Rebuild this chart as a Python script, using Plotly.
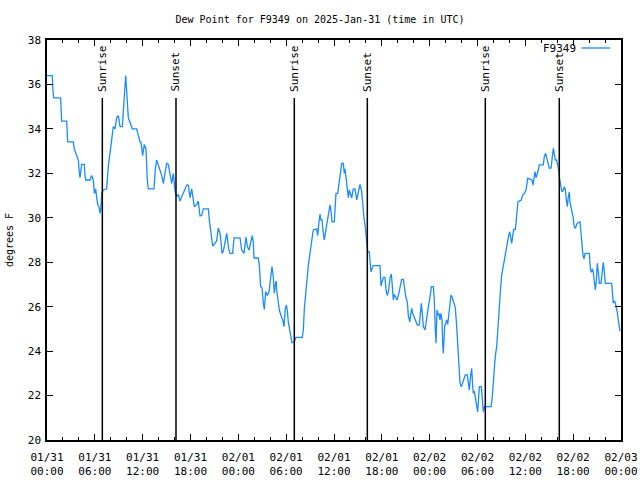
import pandas as pd
import plotly.graph_objects as go

START = pd.Timestamp("2025-01-31 00:00")

# hours since 2025-01-31 00:00 UTC
hours = [0.0, 0.67, 0.75, 0.85, 1.71, 1.84, 2.47, 2.59, 3.3, 3.43, 3.72, 3.93, 4.06, 4.14, 4.35, 4.68, 4.77, 4.85, 5.39, 5.6, 5.81, 5.94, 6.1, 6.23, 6.35, 6.52, 6.65, 6.77, 6.86, 7.06, 7.48, 7.69, 7.9, 8.11, 8.32, 8.53, 8.74, 8.95, 9.16, 9.45, 9.57, 9.7, 9.87, 10.03, 10.2, 10.41, 10.7, 11.25, 11.46, 11.67,
         11.79, 12.0, 12.2, 12.42, 12.58, 12.71, 13.42, 13.59, 13.76, 13.96, 14.17, 14.39, 14.59, 14.8, 15.01, 15.22, 15.43, 15.64, 15.85, 16.06, 16.27, 16.47, 16.68, 17.1, 17.52, 17.73, 17.94, 18.15, 18.27, 18.48, 18.78, 18.98, 19.19, 19.4, 19.61, 20.24, 20.36, 20.53, 20.66, 20.78, 21.07, 21.28, 21.49, 21.7, 21.83, 21.95, 22.12, 22.33, 22.54, 22.67, 22.79, 22.96, 23.29, 23.46, 24.21,
         24.42, 24.71, 24.96, 25.13, 25.34, 25.59, 25.75, 25.88, 25.97, 26.5, 26.63, 26.8, 26.97, 27.14, 27.26, 27.43, 27.64, 27.85, 27.97, 28.1, 28.22, 28.39, 28.51, 28.64, 28.76, 28.81, 28.93, 29.14, 29.35, 29.56, 29.73, 29.89, 30.02, 30.14, 30.27, 30.48, 30.61, 30.73, 30.98, 31.11, 31.23, 32.03, 32.15, 32.28, 32.4, 32.53, 32.65, 32.78, 32.9, 33.03, 33.15, 33.28, 33.4, 33.82, 33.95, 34.12, 34.24, 34.37, 34.5, 34.62, 34.79, 34.91, 35.04, 35.16, 35.33, 35.5, 35.62, 35.75, 36.04, 36.17, 36.25, 36.46, 36.59, 36.71, 36.84, 36.97, 37.17, 37.29,
         37.38, 37.51, 37.67, 37.8, 37.92, 38.1, 38.22, 38.42, 38.63, 38.85, 39.05, 39.26, 39.47, 39.6, 39.76, 39.93, 40.1,
         40.23, 40.43, 40.52, 40.64, 40.77, 40.93, 41.77, 41.9, 42.02, 42.19, 42.4, 42.52, 42.69, 42.86, 43.03, 43.19, 43.32, 43.44, 43.57, 43.74, 43.9, 44.07, 44.28, 44.49, 44.7, 44.86, 45.03, 45.2, 45.32, 45.5, 45.62, 45.75, 45.87, 46.04, 46.29, 46.45, 46.7, 46.83, 46.95, 47.08, 47.2, 47.42, 47.54, 47.71, 47.88, 48.04, 48.21, 48.46, 48.58, 48.71, 48.8, 48.92, 49.05, 49.17, 49.3, 49.42, 49.55, 49.63, 49.71, 49.8, 49.88,
         50.05, 50.14, 50.26, 50.39, 50.55, 50.68, 50.84, 50.97, 51.09, 51.22, 51.39, 51.52, 51.64, 51.81, 51.97, 52.14, 52.31, 52.47, 52.72, 52.89, 52.97, 53.15, 53.27, 53.4, 53.48, 53.6, 53.73, 53.9, 54.02, 54.15, 54.23, 54.48, 54.61, 54.73, 54.86, 55.7, 55.86, 55.98, 56.16, 56.28, 56.41, 56.53, 56.66, 56.79, 56.91, 57.04, 57.25, 57.41, 57.54, 57.66, 57.79, 57.92, 58.04, 58.17, 58.29, 58.42, 58.54, 58.75, 58.83, 58.96, 59.08, 59.5, 59.67, 59.88, 60.09, 60.21, 60.3, 60.84, 60.96,
         61.09, 61.21, 61.34, 61.5, 61.63, 61.75, 62.25, 62.38, 62.55, 62.68, 62.88, 63.0, 63.22, 63.35, 63.43, 63.51, 63.64, 63.76, 63.93, 64.06, 64.18, 64.26, 64.35, 64.47, 64.6, 64.77, 64.89, 65.02, 65.14, 65.27, 65.39, 65.52, 65.6, 65.73, 65.85, 65.98, 66.11, 66.23, 66.36, 66.48, 66.86, 66.98, 67.11, 67.23, 67.36, 67.49, 68.03, 68.15, 68.28, 68.41, 68.53, 68.66, 68.78, 68.91, 69.03, 69.16, 69.28, 69.49, 69.62, 69.78, 69.91, 70.03, 70.83, 70.91, 71.03, 71.16, 71.28, 71.41, 71.53, 71.66, 71.78, 71.87]

dewpoint = [36.4, 36.4, 35.7, 35.4, 35.4, 34.35, 34.35, 33.42, 33.42, 33.08, 32.8, 32.6, 32.0, 31.8, 32.4, 32.4, 31.9, 31.7, 31.7, 31.9, 31.7, 31.1, 31.3, 31.0, 30.6, 30.5, 30.2, 30.5, 31.1, 31.25, 31.3, 32.3, 32.9, 33.5, 34.1, 34.0, 34.5, 34.6, 34.1, 34.1, 34.7, 35.2, 36.4, 35.5, 34.5, 34.3, 34.0, 34.0, 33.7, 33.4,
            33.4, 32.8, 33.3, 33.1, 31.7, 31.3, 31.3, 32.2, 32.6, 32.4, 32.2, 31.9, 31.55, 32.0, 32.45, 32.4, 32.0, 31.55, 32.0, 31.2, 30.95, 31.05, 30.75, 31.1, 31.47, 31.47, 30.9, 31.3, 30.9, 30.5, 30.6, 30.75, 30.08, 30.1, 30.4, 30.4, 29.9, 29.45, 29.0, 28.73, 28.85, 28.96, 29.54, 29.3, 28.9, 28.4, 28.5, 28.9, 29.3, 28.95, 28.6, 28.4, 28.4, 29.1, 29.1,
            28.55, 28.4, 29.13, 28.7, 28.55, 29.0, 29.2, 28.9, 28.19, 28.19, 27.87, 26.9, 26.85, 26.15, 25.88, 26.67, 26.5, 26.67, 27.0, 27.57, 27.8, 27.35, 26.6, 27.0, 27.15, 26.75, 26.3, 25.85, 25.6, 25.4, 25.1, 25.9, 26.07, 25.85, 25.3, 24.95, 24.65, 24.38, 24.38, 24.5, 24.62, 24.62, 24.95, 25.9, 26.45, 27.12, 27.65, 27.87, 28.18, 28.55, 28.92, 29.22, 29.45, 29.5, 29.2, 29.82, 30.16, 29.9, 29.9, 29.4, 29.0, 29.3, 29.6, 29.95, 30.28, 30.58, 30.3, 29.82, 29.82, 30.43, 31.1, 31.1, 31.4, 31.73, 32.15, 32.45, 32.45, 32.0,
            32.2, 31.8, 31.25, 30.9, 31.25, 30.95, 30.9, 31.3, 31.3, 30.8, 31.1, 31.5, 31.2, 30.5, 30.0, 29.55, 28.77,
            28.47, 28.47, 28.17, 27.57, 27.7, 27.85, 27.85, 26.93, 27.1, 27.32, 27.32, 26.75, 26.5, 26.75, 27.3, 27.47, 26.9, 26.3, 26.55, 26.45, 26.3, 26.5, 26.83, 27.23, 27.23, 26.83, 26.4, 26.22, 25.62, 25.32, 25.62, 25.92, 25.7, 25.55, 25.4, 25.17, 25.17, 25.85, 26.15, 25.7, 25.1, 24.95, 25.32, 25.7, 26.1, 26.42, 26.9, 26.9, 26.3, 24.95, 24.35, 25.85, 25.62, 25.7, 25.4, 25.7, 25.4, 24.35, 23.9, 24.5, 25.1,
            25.3, 25.4, 25.2, 25.7, 26.07, 26.52, 26.4, 26.25, 26.1, 25.95, 25.1, 24.35, 23.15, 22.55, 22.4, 22.55, 22.77, 22.93, 22.93, 22.5, 22.25, 22.93, 23.23, 22.4, 22.1, 22.2, 21.95, 21.5, 21.27, 21.95, 22.4, 22.4, 21.65, 21.27, 21.5, 21.5, 21.95, 22.77, 23.45, 23.9, 24.2, 24.87, 25.7, 26.38, 26.9, 27.43, 27.87, 28.17, 28.47, 28.77, 29.07, 29.22, 29.37, 29.1, 28.85, 29.2, 29.48, 29.48, 29.9, 30.43, 30.72, 30.8, 31.02, 31.1, 31.25, 31.55, 31.78, 31.7, 31.47,
            31.78, 32.08, 31.8, 31.95, 32.15, 32.38, 32.38, 32.75, 32.9, 32.7, 32.4, 32.23, 32.23, 32.6, 32.9, 33.13, 32.85, 32.6, 32.6, 32.38, 32.15, 31.85, 31.55, 31.4, 31.17, 31.25, 31.4, 31.25, 30.8, 30.5, 30.95, 31.17, 30.7, 30.5, 30.35, 30.05, 29.67, 29.52, 29.6, 29.75, 29.82, 29.3, 28.85, 28.32, 28.15, 28.4, 28.4, 27.72, 27.55, 27.7, 27.55, 27.12, 26.75, 27.2, 27.95, 27.55, 27.05, 27.05, 27.5, 28.0, 27.55, 27.05, 27.05, 26.6, 26.15, 26.25, 26.2, 25.95, 25.77, 25.4, 24.95, 24.9]

event_names = ["Sunrise", "Sunset", "Sunrise", "Sunset", "Sunrise", "Sunset"]
event_hours = [6.94, 16.18, 31.02, 40.18, 54.98, 64.26]

y_ticks = [20, 22, 24, 26, 28, 30, 32, 34, 36, 38]
series_name = "F9349"

FONT = "DejaVu Sans Mono"
FS = 10
LINE_COLOR = "#1a8cff"

times = [START + pd.Timedelta(hours=h) for h in hours]
event_times = [START + pd.Timedelta(hours=h) for h in event_hours]

fig = go.Figure()
fig.add_trace(go.Scatter(x=times, y=dewpoint, mode="lines", name=series_name,
                         line=dict(color=LINE_COLOR, width=1.3), showlegend=False))

shapes = []
annotations = []
for name, t in zip(event_names, event_times):
    shapes.append(dict(type="line", xref="x", yref="y domain", x0=t, x1=t, y0=0, y1=0.855,
                       line=dict(color="black", width=1.5)))
    annotations.append(dict(x=t, y=0.866, xref="x", yref="y domain", text=name, textangle=-90,
                            showarrow=False, xanchor="center", yanchor="bottom",
                            font=dict(family=FONT, size=FS + 1, color="black")))

# legend (gnuplot style: label then sample)
annotations.append(dict(x=0.925, y=0.98, xref="paper", yref="paper", text=series_name,
                        showarrow=False, xanchor="right", yanchor="middle",
                        font=dict(family=FONT, size=FS + 1, color="black")))
shapes.append(dict(type="line", xref="paper", yref="paper", x0=0.931, x1=0.981, y0=0.98, y1=0.98,
                   line=dict(color=LINE_COLOR, width=1.3)))

fig.update_layout(
    width=640, height=480,
    margin=dict(l=47, r=19, t=40, b=40),
    paper_bgcolor="white", plot_bgcolor="white",
    font=dict(family=FONT, size=FS, color="black"),
    title=dict(text="Dew Point for F9349 on 2025-Jan-31 (time in UTC)", x=0.5, xanchor="center",
               y=1 - 19 / 480, yanchor="middle", font=dict(family=FONT, size=FS, color="black")),
    shapes=shapes, annotations=annotations,
    showlegend=False,
)

fig.update_xaxes(
    type="date", automargin=False,
    range=[START, START + pd.Timedelta(hours=72)],
    dtick=6 * 3600 * 1000, tick0=START,
    tickformat="%m/%d<br>%H:%M",
    ticks="inside", ticklen=6, tickwidth=1, tickcolor="black",
    showline=True, linecolor="black", linewidth=1.5, mirror="ticks",
    showgrid=False, zeroline=False,
    minor=dict(dtick=2 * 3600 * 1000, tick0=START, ticks="inside", ticklen=3, tickcolor="black", showgrid=False),
    tickfont=dict(family=FONT, size=FS + 1),
    ticklabelstandoff=6,
)
fig.update_yaxes(
    automargin=False,
    range=[20, 38], tickvals=y_ticks,
    ticks="inside", ticklen=6, tickwidth=1, tickcolor="black",
    showline=True, linecolor="black", linewidth=1.5, mirror="ticks",
    showgrid=False, zeroline=False,
    title=dict(text="degrees F", font=dict(family=FONT, size=FS), standoff=12),
    tickfont=dict(family=FONT, size=FS + 1),
    ticklabelstandoff=2,
)

fig.write_html("out.html")
